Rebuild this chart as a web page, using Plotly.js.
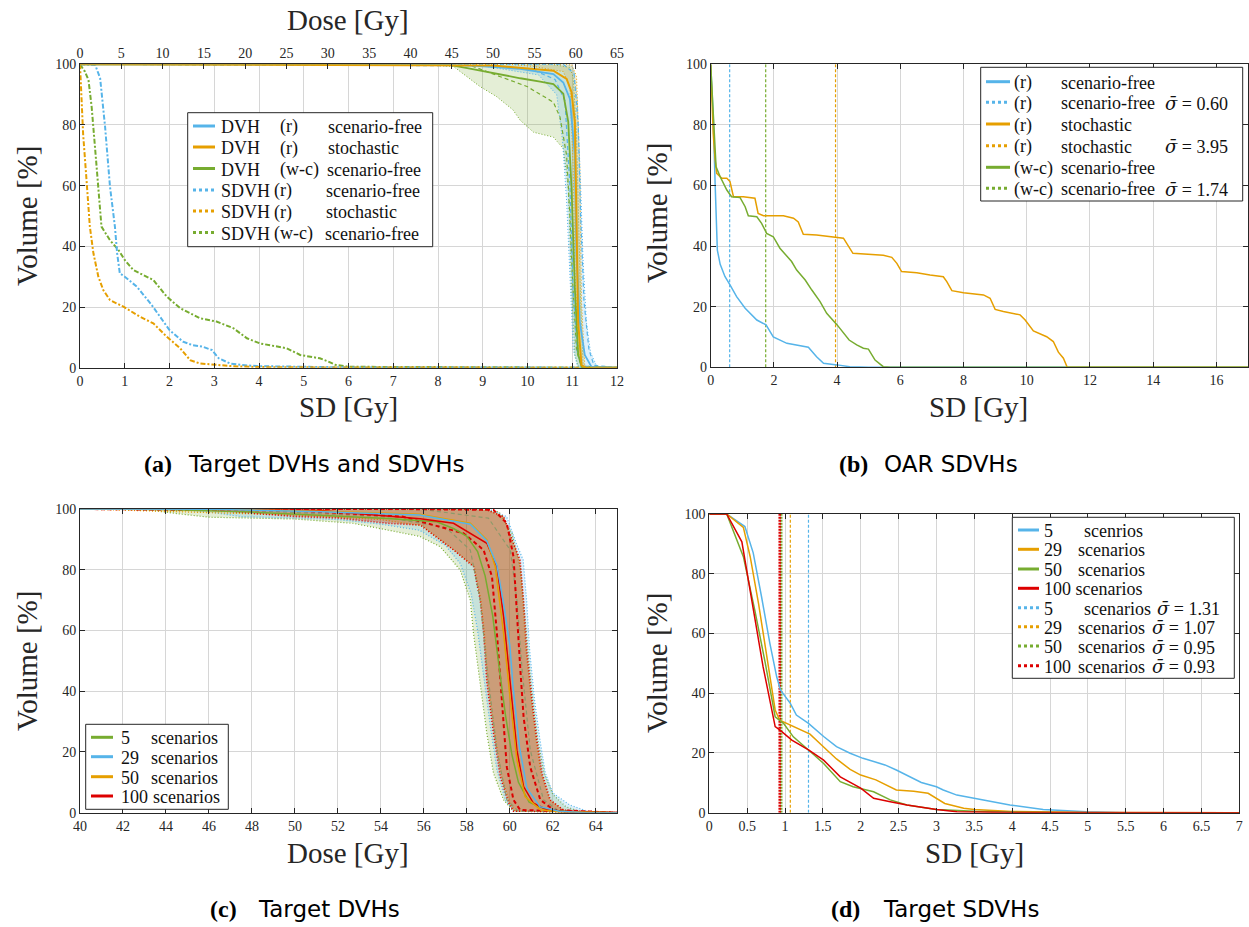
<!DOCTYPE html>
<html><head><meta charset="utf-8">
<script src="https://cdn.plot.ly/plotly-3.0.1.min.js"></script>
<style>html,body{margin:0;padding:0;background:#fff}#chart{width:1249px;height:927px}</style>
</head><body><div id="chart"></div>
<script>
// ---------------- DATA ----------------
// Panel (a): SDVHs vs SD [Gy]
const sdvhRFreeSD = [0, 0.2, 0.34, 0.45, 0.56, 0.67, 0.78, 0.83, 0.89, 1.0, 1.27, 1.6, 2.0, 2.3, 2.5, 2.75, 2.95, 3.1, 3.35, 3.6, 4.0, 5.0, 6.0, 12];
const sdvhRFreeV  = [100, 100, 99.8, 95.4, 79.5, 59.7, 46.5, 37.7, 31.1, 30, 26.7, 20.7, 12.4, 8.6, 7.5, 6.9, 5.8, 3.1, 1.4, 0.9, 0.5, 0.3, 0.1, 0];
const sdvhRStochSD = [0, 0.04, 0.07, 0.15, 0.22, 0.3, 0.41, 0.52, 0.67, 0.97, 1.34, 1.64, 1.94, 2.24, 2.46, 2.68, 3.05, 3.4, 4.0, 6.0, 12];
const sdvhRStochV  = [100, 88, 77, 61, 46.5, 37.7, 30, 25.6, 22.3, 20.1, 16.8, 14.6, 10.2, 6.4, 2.5, 1.4, 0.9, 0.5, 0.2, 0.05, 0];
const sdvhWcFreeSD = [0, 0.11, 0.19, 0.26, 0.34, 0.41, 0.48, 0.67, 0.86, 1.0, 1.19, 1.42, 1.64, 1.94, 2.24, 2.68, 3.05, 3.43, 3.73, 4.02, 4.4, 4.62, 4.92, 5.36, 5.55, 5.7, 6.0, 12];
const sdvhWcFreeV  = [100, 97.6, 94.8, 86, 71.8, 57.5, 46.5, 42, 38.8, 35.5, 32.2, 30.5, 28.9, 23.4, 19.6, 16.3, 15.2, 13, 9.7, 8, 6.9, 6.4, 4.2, 3.1, 2, 1, 0.3, 0];
// Panel (a): DVHs vs Dose [Gy]
const dvhRFreeDose = [0, 45, 53.3, 57.3, 58.5, 59.3, 59.9, 60.1, 60.5, 61.1, 61.9, 62.5, 65];
const dvhRFreeV    = [100, 100, 98.5, 96.8, 94, 88.6, 70, 37, 15.1, 4.2, 0.3, 0, 0];
const dvhRStochDose = [0, 50, 57.3, 58.9, 59.5, 59.9, 60.1, 60.3, 60.7, 61.2, 65];
const dvhRStochV    = [100, 99.6, 97.9, 95.2, 90.8, 81, 48, 15, 0.8, 0, 0];
const dvhWcFreeDose = [0, 44.4, 47.2, 49.2, 53.3, 55.7, 57.3, 58.5, 59.1, 59.5, 59.9, 60.3, 60.7, 61.2, 65];
const dvhWcFreeV    = [100, 100, 98.6, 97.5, 95.4, 94.3, 93.5, 90.3, 81, 59, 26, 4.3, 0.5, 0, 0];
// Panel (a): scenario bands (min / max)
const wcLoDose = [0, 39.9, 45.2, 46.8, 48.4, 50.4, 52.4, 53.3, 54.9, 57.3, 58.5, 59.1, 59.5, 59.9, 60.3, 65];
const wcLoV    = [100, 100, 99.3, 96, 92.7, 89.4, 85, 81.5, 77.6, 76, 72.2, 59, 26, 4.3, 0.5, 0];
const wcHiDose = [0, 57, 59.3, 59.7, 60.1, 60.6, 60.9, 61.3, 65];
const wcHiV    = [100, 100, 99, 95.6, 77, 22, 1, 0, 0];
const rFreeLoDose = [0, 47, 49.2, 53.3, 55.5, 57.7, 58.4, 58.9, 59.3, 59.7, 60.2, 65];
const rFreeLoV    = [100, 100, 99.3, 97.6, 96.5, 90, 75, 55, 30, 6, 0.5, 0];
const rFreeHiDose = [0, 59.0, 59.7, 60.2, 60.6, 60.9, 61.3, 61.8, 62.5, 63, 65];
const rFreeHiV    = [100, 100, 99, 88, 60, 35, 15, 5, 0.8, 0, 0];
const rStochLoDose = [0, 52, 54.9, 58.5, 59.3, 59.7, 59.9, 60.3, 60.7, 65];
const rStochLoV    = [100, 100, 99.3, 97.6, 92.6, 66, 33, 5.7, 0.3, 0];
const rStochHiDose = [0, 59.5, 60.1, 60.5, 60.7, 61.1, 65];
const rStochHiV    = [100, 100, 96, 66, 22, 0.5, 0];
// Panel (a): dashed (mean +/- std) curves
const wcDashDose = [0, 47.2, 50.8, 54.1, 57.3, 58.1, 58.9, 59.3, 59.6, 60.1, 60.7, 65];
const wcDashV    = [100, 99.7, 96, 92.7, 87.5, 82.6, 70, 50, 30, 5.7, 0.3, 0];
const rFreeDashLoDose = [0, 50, 55, 57.5, 58.7, 59.3, 59.7, 60.2, 60.8, 65];
const rFreeDashLoV    = [100, 99.5, 98, 95, 88, 60, 25, 5, 0.5, 0];
const rFreeDashHiDose = [0, 58.5, 59.8, 60.3, 60.6, 61.0, 61.6, 62.2, 65];
const rFreeDashHiV    = [100, 100, 97, 80, 50, 22, 6, 0.8, 0];

// Panel (b): OAR SDVHs
const oarRFreeSD = [0, 0.08, 0.14, 0.21, 0.3, 0.45, 0.61, 0.82, 1.09, 1.46, 1.75, 1.98, 2.41, 2.83, 3.09, 3.35, 3.57, 4.0, 4.4, 5.0, 17];
const oarRFreeV  = [100, 82.7, 60.7, 38.7, 34, 30, 27.2, 23.3, 19.5, 15.6, 14, 10, 7.9, 7, 6.6, 3.5, 1.3, 0.8, 0.2, 0, 0];
const oarRStochSD = [0, 0.08, 0.14, 0.19, 0.35, 0.51, 0.61, 0.72, 1.03, 1.4, 1.5, 1.67, 2.3, 2.62, 2.77, 2.93, 3.35, 3.78, 4.0, 4.2, 4.5, 4.94, 5.46, 5.73, 5.89, 6.04, 6.52, 6.94, 7.36, 7.47, 7.63, 8.0, 8.63, 8.84, 9.0, 9.26, 9.79, 9.95, 10.21, 10.63, 10.84, 11.0, 11.16, 11.28, 17];
const oarRStochV  = [100, 77, 68.4, 64, 62.4, 62.4, 61.3, 56.3, 56.3, 55.8, 50.8, 50, 50, 49.2, 48, 43.9, 43.7, 43.1, 42.9, 42.6, 37.6, 37.4, 37, 36.3, 34.3, 31.6, 31.2, 30.5, 29.9, 28.3, 25.3, 24.6, 23.9, 22.8, 19.1, 18.4, 17.3, 15.6, 12, 10.1, 8.5, 5, 3, 0, 0];
const oarWcFreeSD = [0, 0.08, 0.17, 0.3, 0.51, 0.66, 0.93, 1.09, 1.19, 1.46, 1.61, 1.77, 1.98, 2.19, 2.41, 2.56, 2.72, 2.99, 3.2, 3.46, 3.67, 4.0, 4.38, 4.62, 4.83, 4.99, 5.2, 5.46, 5.68, 17];
const oarWcFreeV  = [100, 82.7, 66.2, 62.9, 58.5, 56.3, 56, 53, 50, 49.7, 47.5, 44.2, 43.1, 39.3, 36.5, 34.9, 32.1, 28.8, 25.5, 21.7, 17.8, 14, 9, 7.4, 6.3, 6, 2.4, 0.2, 0, 0];
const oarMeanSigma = [0.60, 3.95, 1.74];   // (r) free, (r) stochastic, (w-c) free

// Panel (c): target DVHs for different scenario counts (mean, min, max, -std, +std)
const c5MeanDose = [40, 44, 48, 51.2, 54.3, 56.6, 57.4, 58.0, 58.5, 58.85, 59.2, 59.5, 59.8, 60.1, 60.4, 60.9, 61.7, 62.8, 65];
const c5MeanV    = [100, 99.8, 99, 98, 96.9, 95.8, 93.5, 91, 86, 78, 65, 48, 32, 19, 10, 3.5, 1, 0.3, 0];
const c5LoDose = [40, 43, 44.5, 46, 48, 50, 52.7, 54.3, 55.8, 56.76, 57.69, 58.16, 58.31, 58.62, 58.93, 59.24, 59.71, 60.17, 65];
const c5LoV    = [100, 99.8, 98.5, 97.3, 97, 96.7, 95.3, 93.1, 91, 87.6, 79.9, 70, 59, 42.6, 26.1, 13, 4.2, 0.5, 0];
const c5HiDose = [40, 58.5, 59.5, 60.1, 60.5, 60.75, 61.0, 61.3, 61.6, 62.0, 62.6, 63.3, 65];
const c5HiV    = [100, 100, 99, 92, 80, 62, 42, 24, 13, 6, 2, 0.3, 0];
const c5DashLoDose = [40, 48, 54, 57, 58.16, 58.62, 58.93, 59.4, 59.86, 60.4, 65];
const c5DashLoV    = [100, 99.5, 97.5, 94, 86.5, 70, 48, 20.6, 4.2, 0.5, 0];
const c5DashHiDose = [40, 56, 59, 60.02, 60.33, 60.56, 60.95, 61.57, 62.3, 65];
const c5DashHiV    = [100, 99.8, 97, 86.5, 70, 48, 20.6, 4.2, 0.5, 0];

const c29MeanDose = [40, 46, 51.2, 55.8, 58.16, 58.93, 59.4, 59.75, 60.0, 60.15, 60.45, 60.8, 61.4, 62.3, 63.5, 65];
const c29MeanV    = [100, 99.9, 99.1, 98, 95, 89.5, 81.5, 67, 55, 41.5, 21.5, 8, 2, 0.5, 0, 0];
const c29LoDose = [40, 44, 46, 47.5, 50, 52, 54, 55.8, 57.0, 57.7, 58.2, 58.5, 58.8, 59.1, 59.4, 59.8, 60.2, 65];
const c29LoV    = [100, 100, 99, 97.5, 97, 96.5, 95, 93, 88, 82, 72, 60, 44, 28, 14, 4, 0.5, 0];
const c29HiDose = [40, 58.5, 59.1, 59.85, 60.3, 60.62, 60.78, 60.92, 61.15, 61.4, 61.65, 62.0, 62.8, 63.6, 65];
const c29HiV    = [100, 100, 99.7, 97.5, 88.7, 83.2, 70, 53.6, 37.1, 24, 13, 6.5, 2.5, 0.5, 0];

const c50MeanDose = [40, 46, 51.2, 55.8, 58.16, 58.93, 59.32, 59.71, 60.02, 60.33, 60.71, 61.42, 62.3, 65];
const c50MeanV    = [100, 99.9, 99.3, 98.3, 95.3, 89.8, 81, 59, 37.1, 17.3, 5.3, 1.0, 0.3, 0];
const c50LoDose = [40, 50, 54, 55.9, 57.4, 58.35, 58.65, 58.82, 58.98, 59.3, 59.62, 60.0, 60.25, 65];
const c50LoV    = [100, 98, 96.5, 94.5, 86.5, 81, 70, 59, 42.6, 26, 11.9, 3.2, 0.5, 0];
const c50HiDose = [40, 58.5, 58.95, 59.7, 60.15, 60.45, 60.6, 60.75, 61.0, 61.22, 61.45, 61.85, 62.5, 63.3, 65];
const c50HiV    = [100, 100, 99.7, 97.5, 88.7, 83.2, 70, 53.6, 37.1, 24, 13, 4.2, 0.9, 0.2, 0];

const c100MeanDose = [40, 46, 51.2, 55.83, 57.38, 58.16, 58.93, 59.4, 59.71, 60.02, 60.33, 60.64, 61.1, 61.73, 62.5, 65];
const c100MeanV    = [100, 99.9, 99.5, 96.8, 95.3, 92, 88.7, 81, 64.5, 42.6, 20.6, 8.6, 3.1, 1.0, 0.3, 0];
const c100LoDose = [40, 46, 50, 52, 54.3, 55.83, 57.38, 58.31, 58.62, 58.78, 58.93, 59.24, 59.55, 59.94, 60.17, 65];
const c100LoV    = [100, 99.7, 97.5, 97, 95.3, 94.7, 86.5, 81, 70, 59, 42.6, 26, 11.9, 3.2, 0.5, 0];
const c100HiDose = [40, 58.0, 58.93, 59.71, 60.17, 60.48, 60.64, 60.79, 61.03, 61.26, 61.5, 61.88, 62.5, 63.3, 65];
const c100HiV    = [100, 100, 99.7, 97.5, 88.7, 83.2, 70, 53.6, 37.1, 24, 13, 4.2, 0.9, 0.3, 0];
const c100DashLoDose = [40, 50, 55, 57.85, 58.78, 59.17, 59.4, 59.63, 59.86, 60.17, 60.48, 65];
const c100DashLoV    = [100, 99.5, 97.5, 92, 86.5, 77.7, 59, 37.1, 15, 4.2, 0.9, 0];
const c100DashHiDose = [40, 55, 59.24, 59.86, 60.17, 60.33, 60.48, 60.64, 60.95, 61.42, 62.04, 65];
const c100DashHiV    = [100, 100, 99.7, 95.3, 84.3, 64.5, 48, 31.5, 15, 4.2, 0.9, 0];

// Panel (d): target SDVHs
const d5SD = [0, 0.23, 0.47, 0.58, 0.69, 0.8, 0.89, 0.94, 1.07, 1.15, 1.31, 1.51, 1.68, 1.86, 2.03, 2.17, 2.32, 2.47, 2.65, 2.8, 3.0, 3.09, 3.27, 3.44, 3.97, 4.41, 4.98, 5.5, 7];
const d5V  = [100, 100, 95.8, 87, 72.3, 56.7, 45.5, 41.1, 36.6, 32.7, 29.9, 25.5, 22.1, 19.9, 18.2, 17.1, 16, 14.3, 12.1, 10.1, 8.7, 7.6, 5.9, 5.1, 2.6, 1.1, 0.35, 0, 0];
const d29SD = [0, 0.23, 0.45, 0.54, 0.65, 0.76, 0.87, 0.93, 1.07, 1.2, 1.33, 1.51, 1.68, 1.86, 2.0, 2.2, 2.47, 2.7, 2.89, 3.11, 3.36, 3.5, 4.0, 5.0, 7];
const d29V  = [100, 100, 95.5, 85.7, 70.1, 52.2, 34.4, 31, 29.4, 27.7, 26.3, 22, 18, 14.5, 12.6, 11, 7.6, 7.2, 6.5, 3.1, 1.5, 1.1, 0.4, 0.1, 0];
const d50SD = [0, 0.23, 0.45, 0.6, 0.74, 0.87, 0.98, 1.11, 1.31, 1.51, 1.73, 1.9, 2.17, 2.39, 2.61, 2.83, 3.0, 3.5, 4.0, 5.0, 7];
const d50V  = [100, 100, 85.7, 67.9, 50, 32.1, 29.9, 25.4, 21, 16.5, 10.4, 8.7, 7.0, 4.3, 2.6, 1.8, 1.1, 0.5, 0.2, 0, 0];
const d100SD = [0, 0.23, 0.43, 0.56, 0.71, 0.87, 0.93, 1.09, 1.31, 1.51, 1.73, 2.0, 2.17, 2.39, 2.61, 3.0, 3.27, 3.5, 4.0, 7];
const d100V  = [100, 100, 90.7, 71.2, 48.9, 28.8, 27.7, 24.3, 21, 17.6, 12, 8.2, 4.8, 3.7, 2.6, 1.1, 0.35, 0.2, 0.1, 0];
const dMeanSigma = [1.31, 1.07, 0.95, 0.93];   // 5, 29, 50, 100 scenarios

// ---------------- STYLE ----------------
const W = 1249, H = 927;
const X = px => px / W;
const Y = py => 1 - py / H;
const SERIF = 'Liberation Serif, Times New Roman, serif';
const SANS = 'DejaVu Sans, sans-serif';
const BLUE = '#56B4E9', ORANGE = '#E69F00', GREEN = '#77AC30', RED = '#DD0000';
const BLUE_F = 'rgba(86,180,233,0.2)', ORANGE_F = 'rgba(230,159,0,0.2)', GREEN_F = 'rgba(119,172,48,0.2)', RED_F = 'rgba(200,30,0,0.3)';
const TXT = '#262626';

function ln(x, y, xa, ya, color, width, dash, extra) {
  return Object.assign({type: 'scatter', mode: 'lines', x: x, y: y, xaxis: xa, yaxis: ya,
    line: {color: color, width: width, dash: dash || 'solid'}, showlegend: false, hoverinfo: 'skip'}, extra || {});
}
function vline(s, xa, ya, color, width, dash) {
  return ln([s, s], [0, 100], xa, ya, color, width, dash);
}

const DOT = '1px,2px';
const traces = [];
// (a) bands on dose axis
traces.push(ln(wcLoDose, wcLoV, 'x2', 'y', GREEN, 1, DOT));
traces.push(ln(wcHiDose, wcHiV, 'x2', 'y', GREEN, 1, DOT, {fill: 'tonexty', fillcolor: GREEN_F}));
traces.push(ln(rFreeLoDose, rFreeLoV, 'x2', 'y', BLUE, 1, DOT));
traces.push(ln(rFreeHiDose, rFreeHiV, 'x2', 'y', BLUE, 1, DOT, {fill: 'tonexty', fillcolor: BLUE_F}));
traces.push(ln(rStochLoDose, rStochLoV, 'x2', 'y', ORANGE, 1, DOT));
traces.push(ln(rStochHiDose, rStochHiV, 'x2', 'y', ORANGE, 1, DOT, {fill: 'tonexty', fillcolor: ORANGE_F}));
traces.push(ln(wcDashDose, wcDashV, 'x2', 'y', GREEN, 1.2, '4px,3px'));
traces.push(ln(rFreeDashLoDose, rFreeDashLoV, 'x2', 'y', BLUE, 1.2, '4px,3px'));
traces.push(ln(rFreeDashHiDose, rFreeDashHiV, 'x2', 'y', BLUE, 1.2, '4px,3px'));
traces.push(ln(dvhWcFreeDose, dvhWcFreeV, 'x2', 'y', GREEN, 1.8));
traces.push(ln(dvhRFreeDose, dvhRFreeV, 'x2', 'y', BLUE, 1.8));
traces.push(ln(dvhRStochDose, dvhRStochV, 'x2', 'y', ORANGE, 2));
// (a) SDVHs on SD axis
const DASHDOT = '5px,2px,2px,2px';
traces.push(ln(sdvhWcFreeSD, sdvhWcFreeV, 'x', 'y', GREEN, 2, DASHDOT));
traces.push(ln(sdvhRFreeSD, sdvhRFreeV, 'x', 'y', BLUE, 2, DASHDOT));
traces.push(ln(sdvhRStochSD, sdvhRStochV, 'x', 'y', ORANGE, 2, DASHDOT));

// (b)
traces.push(vline(oarMeanSigma[0], 'x3', 'y2', BLUE, 1.2, '3px,2px'));
traces.push(vline(oarMeanSigma[1], 'x3', 'y2', ORANGE, 1.2, '3px,2px'));
traces.push(vline(oarMeanSigma[2], 'x3', 'y2', GREEN, 1.2, '3px,2px'));
traces.push(ln(oarRFreeSD, oarRFreeV, 'x3', 'y2', BLUE, 1.5));
traces.push(ln(oarRStochSD, oarRStochV, 'x3', 'y2', ORANGE, 1.5));
traces.push(ln(oarWcFreeSD, oarWcFreeV, 'x3', 'y2', GREEN, 1.5));

// (c)
traces.push(ln(c5LoDose, c5LoV, 'x4', 'y3', GREEN, 1.2, DOT));
traces.push(ln(c5HiDose, c5HiV, 'x4', 'y3', GREEN, 1.2, DOT, {fill: 'tonexty', fillcolor: GREEN_F}));
traces.push(ln(c29LoDose, c29LoV, 'x4', 'y3', BLUE, 1.2, DOT));
traces.push(ln(c29HiDose, c29HiV, 'x4', 'y3', BLUE, 1.2, DOT, {fill: 'tonexty', fillcolor: BLUE_F}));
traces.push(ln(c50LoDose, c50LoV, 'x4', 'y3', ORANGE, 1.2, DOT));
traces.push(ln(c50HiDose, c50HiV, 'x4', 'y3', ORANGE, 1.2, DOT, {fill: 'tonexty', fillcolor: ORANGE_F}));
traces.push(ln(c100LoDose, c100LoV, 'x4', 'y3', RED, 1.5, DOT));
traces.push(ln(c100HiDose, c100HiV, 'x4', 'y3', RED, 1.5, DOT, {fill: 'tonexty', fillcolor: RED_F}));
traces.push(ln(c5DashLoDose, c5DashLoV, 'x4', 'y3', '#8c9a6a', 1.2, '4px,3px'));
traces.push(ln(c5DashHiDose, c5DashHiV, 'x4', 'y3', '#8c9a6a', 1.2, '4px,3px'));
traces.push(ln(c100DashLoDose, c100DashLoV, 'x4', 'y3', RED, 2, '4px,3px'));
traces.push(ln(c100DashHiDose, c100DashHiV, 'x4', 'y3', RED, 2, '4px,3px'));
traces.push(ln(c5MeanDose, c5MeanV, 'x4', 'y3', GREEN, 1.5));
traces.push(ln(c100MeanDose, c100MeanV, 'x4', 'y3', RED, 1.5));
traces.push(ln(c50MeanDose, c50MeanV, 'x4', 'y3', ORANGE, 1.5));
traces.push(ln(c29MeanDose, c29MeanV, 'x4', 'y3', BLUE, 1.5));

// (d)
traces.push(vline(dMeanSigma[0], 'x5', 'y4', BLUE, 1.2, '3px,2px'));
traces.push(vline(dMeanSigma[1], 'x5', 'y4', ORANGE, 1.2, '3px,2px'));
traces.push(vline(dMeanSigma[2], 'x5', 'y4', GREEN, 2.5, '2px,1px'));
traces.push(vline(dMeanSigma[3], 'x5', 'y4', RED, 2.5, '2px,1px'));
traces.push(ln(d5SD, d5V, 'x5', 'y4', BLUE, 1.5));
traces.push(ln(d29SD, d29V, 'x5', 'y4', ORANGE, 1.5));
traces.push(ln(d50SD, d50V, 'x5', 'y4', GREEN, 1.5));
traces.push(ln(d100SD, d100V, 'x5', 'y4', RED, 1.5));

// ---------------- AXES ----------------
function ax(o) {
  return Object.assign({showgrid: true, gridcolor: '#d6d6d6', gridwidth: 1, showline: true, linecolor: TXT, linewidth: 1,
    ticks: 'inside', ticklen: 5, tickcolor: TXT, tickwidth: 1,
    tickfont: {family: SERIF, size: 14, color: TXT}, zeroline: false, mirror: 'ticks', fixedrange: true,
    tickmode: 'linear'}, o);
}
const yVol = {range: [0, 100], tick0: 0, dtick: 20};

const layout = {
  width: W, height: H, margin: {l: 0, r: 0, t: 0, b: 0}, paper_bgcolor: '#fff', plot_bgcolor: '#fff',
  showlegend: false, font: {family: SERIF, color: TXT},
  xaxis: ax({domain: [X(80), X(617)], anchor: 'y', range: [0, 12], tick0: 0, dtick: 1, mirror: false}),
  xaxis2: ax({overlaying: 'x', side: 'top', anchor: 'y', range: [0, 65], tick0: 0, dtick: 5, showgrid: false, mirror: false}),
  yaxis: ax(Object.assign({domain: [Y(367.7), Y(64.3)], anchor: 'x'}, yVol)),
  xaxis3: ax({domain: [X(710.7), X(1248)], anchor: 'y2', range: [0, 17], tick0: 0, dtick: 2}),
  yaxis2: ax(Object.assign({domain: [Y(367.3), Y(64.3)], anchor: 'x3'}, yVol)),
  xaxis4: ax({domain: [X(80), X(617.3)], anchor: 'y3', range: [40, 65], tick0: 40, dtick: 2}),
  yaxis3: ax(Object.assign({domain: [Y(812.7), Y(509)], anchor: 'x4'}, yVol)),
  xaxis5: ax({domain: [X(709.3), X(1239.3)], anchor: 'y4', range: [0, 7], tick0: 0, dtick: 0.5}),
  yaxis4: ax(Object.assign({domain: [Y(812.7), Y(514)], anchor: 'x5'}, yVol)),
  shapes: [], annotations: []
};

// ---------------- TEXT: axis titles & captions ----------------
function txt(text, px, py, size, o) {
  layout.annotations.push(Object.assign({xref: 'paper', yref: 'paper', x: X(px), y: Y(py), text: text, showarrow: false,
    xanchor: 'center', yanchor: 'middle', font: {family: SERIF, size: size, color: TXT}}, o || {}));
}
txt('Dose [Gy]', 348, 20, 29);
txt('SD [Gy]', 348, 407, 29);
txt('Volume [%]', 27, 216, 29, {textangle: -90});
txt('Volume [%]', 657, 213, 29, {textangle: -90});
txt('SD [Gy]', 978, 407, 29);
txt('Volume [%]', 27, 661, 29, {textangle: -90});
txt('Dose [Gy]', 348, 853, 29);
txt('Volume [%]', 657, 663, 29, {textangle: -90});
txt('SD [Gy]', 974, 853, 29);

function caption(label, labelLeft, rest, restLeft, py) {
  txt('<b>' + label + '</b>', labelLeft, py, 24, {xanchor: 'left', font: {family: SERIF, size: 24, color: '#000'}});
  txt(rest, restLeft, py, 23, {xanchor: 'left', font: {family: SANS, size: 23, color: '#000'}});
}
caption('(a)', 142, 'Target DVHs and SDVHs', 186, 464);
caption('(b)', 837, 'OAR SDVHs', 882, 464);
caption('(c)', 208, 'Target DVHs', 256, 909);
caption('(d)', 829, 'Target SDVHs', 881, 909);

// ---------------- LEGENDS (drawn) ----------------
const LFONT = {family: SERIF, size: 18, color: '#111'};
function legend(box, sx0, sx1, rows) {
  layout.shapes.push({type: 'rect', xref: 'paper', yref: 'paper', x0: X(box[0]), x1: X(box[1]), y0: Y(box[3]), y1: Y(box[2]),
    line: {color: TXT, width: 1}, fillcolor: '#fff', layer: 'above'});
  rows.forEach(r => {
    layout.shapes.push({type: 'line', xref: 'paper', yref: 'paper', x0: X(sx0), x1: X(sx1), y0: Y(r.y), y1: Y(r.y),
      line: {color: r.color, width: 3, dash: r.dash || 'solid'}, layer: 'above'});
    r.cols.forEach(c => {
      layout.annotations.push({xref: 'paper', yref: 'paper', x: X(c[1]), y: Y(r.y + 1), text: c[0], showarrow: false,
        xanchor: 'left', yanchor: 'middle', font: LFONT, borderpad: 0});
    });
  });
}
const LDOT = '3px,3px';
const SIG = '<span style="font-family:DejaVu Serif;font-style:italic">σ̄</span> = ';
legend([187.7, 432.7, 112.7, 246.7], 193, 215, [
  {y: 126, color: BLUE, cols: [['DVH', 220], ['(r)', 279], ['scenario-free', 326.5]]},
  {y: 147, color: ORANGE, cols: [['DVH', 220], ['(r)', 279], ['stochastic', 326.5]]},
  {y: 168.5, color: GREEN, cols: [['DVH', 220], ['(w-c)', 279], ['scenario-free', 325.5]]},
  {y: 190, color: BLUE, dash: LDOT, cols: [['SDVH', 220], ['(r)', 273], ['scenario-free', 324.5]]},
  {y: 211, color: ORANGE, dash: LDOT, cols: [['SDVH', 220], ['(r)', 273], ['stochastic', 324.5]]},
  {y: 232.5, color: GREEN, dash: LDOT, cols: [['SDVH', 220], ['(w-c)', 273], ['scenario-free', 323.5]]}
]);
legend([980.7, 1242.7, 67.3, 201], 986, 1010, [
  {y: 81.7, color: BLUE, cols: [['(r)', 1012.5], ['scenario-free', 1060]]},
  {y: 102.3, color: BLUE, dash: LDOT, cols: [['(r)', 1012.5], ['scenario-free', 1060], [SIG + oarMeanSigma[0].toFixed(2), 1164]]},
  {y: 124, color: ORANGE, cols: [['(r)', 1012.5], ['stochastic', 1060]]},
  {y: 145.7, color: ORANGE, dash: LDOT, cols: [['(r)', 1012.5], ['stochastic', 1060], [SIG + oarMeanSigma[1].toFixed(2), 1164]]},
  {y: 167.3, color: GREEN, cols: [['(w-c)', 1012.5], ['scenario-free', 1059.5]]},
  {y: 188.3, color: GREEN, dash: LDOT, cols: [['(w-c)', 1012.5], ['scenario-free', 1059.5], [SIG + oarMeanSigma[2].toFixed(2), 1164]]}
]);
legend([85.7, 228.3, 724.3, 809.3], 91, 113, [
  {y: 737.3, color: GREEN, cols: [['5', 119.5], ['scenarios', 149.5]]},
  {y: 756.7, color: BLUE, cols: [['29', 119.5], ['scenarios', 149.5]]},
  {y: 776.7, color: ORANGE, cols: [['50', 119.5], ['scenarios', 149.5]]},
  {y: 796, color: RED, cols: [['100', 119.5], ['scenarios', 151.7]]}
]);
legend([1012.3, 1234.3, 517.3, 678.3], 1018, 1039, [
  {y: 530, color: BLUE, cols: [['5', 1043.3], ['scenrios', 1082.7]]},
  {y: 549.3, color: ORANGE, cols: [['29', 1043.3], ['scenarios', 1076.7]]},
  {y: 569, color: GREEN, cols: [['50', 1043.3], ['scenarios', 1076.7]]},
  {y: 588.3, color: RED, cols: [['100 scenarios', 1043.3]]},
  {y: 607.7, color: BLUE, dash: LDOT, cols: [['5', 1043.3], ['scenarios', 1082.7], [SIG + dMeanSigma[0].toFixed(2), 1156]]},
  {y: 626.7, color: ORANGE, dash: LDOT, cols: [['29', 1043.3], ['scenarios', 1076.7], [SIG + dMeanSigma[1].toFixed(2), 1151]]},
  {y: 646, color: GREEN, dash: LDOT, cols: [['50', 1043.3], ['scenarios', 1076.7], [SIG + dMeanSigma[2].toFixed(2), 1151]]},
  {y: 665.7, color: RED, dash: LDOT, cols: [['100', 1043.3], ['scenarios', 1076.7], [SIG + dMeanSigma[3].toFixed(2), 1151]]}
]);

Plotly.newPlot('chart', traces, layout, {staticPlot: true, displayModeBar: false});
</script></body></html>
